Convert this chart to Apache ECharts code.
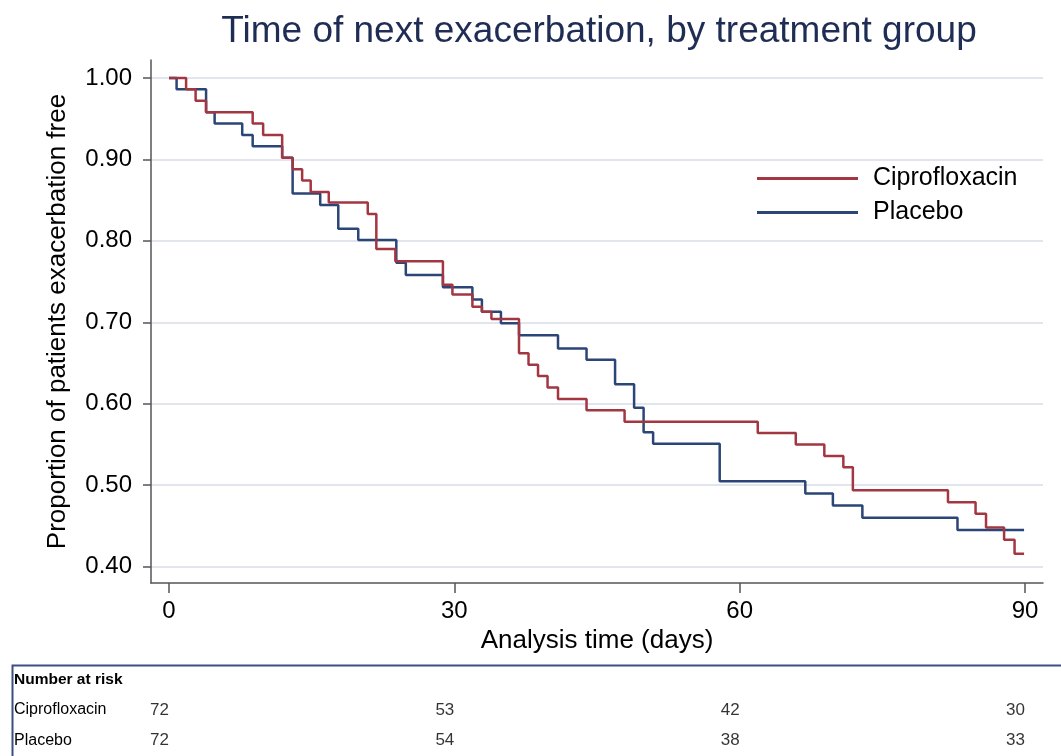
<!DOCTYPE html>
<html>
<head>
<meta charset="utf-8">
<script src="https://cdn.jsdelivr.net/npm/echarts@6/dist/echarts.min.js"></script>
<style>
html,body{margin:0;padding:0;background:#fff;}
#chart{width:1061px;height:756px;}
</style>
</head>
<body>
<div id="chart"></div>
<script>
// ---- data ----
const ciproTime = [0, 1.8, 2.8, 3.9, 8.8, 9.9, 11.9, 13.0, 14.0, 14.9, 16.8, 20.9, 21.8, 23.8, 28.8, 29.8, 31.9, 32.9, 33.9, 36.8, 37.8, 38.8, 39.8, 40.9, 43.9, 47.9, 61.9, 65.9, 68.9, 70.9, 71.9, 81.9, 84.8, 85.9, 87.8, 88.9, 89.9];
const ciproSurv = [1.0, 0.986, 0.972, 0.958, 0.944, 0.930, 0.902, 0.888, 0.874, 0.860, 0.847, 0.833, 0.790, 0.775, 0.746, 0.734, 0.719, 0.713, 0.704, 0.662, 0.648, 0.634, 0.620, 0.606, 0.592, 0.578, 0.564, 0.550, 0.536, 0.522, 0.494, 0.479, 0.465, 0.448, 0.433, 0.416, 0.416];
const placeboTime = [0, 0.8, 3.9, 4.8, 7.7, 8.8, 11.9, 13.0, 15.9, 17.8, 19.9, 23.9, 24.9, 28.8, 31.9, 32.9, 34.9, 36.8, 40.9, 43.9, 46.9, 48.9, 49.9, 50.9, 57.9, 66.9, 69.8, 72.9, 82.9, 89.9];
const placeboSurv = [1.0, 0.986, 0.958, 0.944, 0.930, 0.916, 0.902, 0.858, 0.844, 0.815, 0.801, 0.773, 0.758, 0.743, 0.728, 0.713, 0.699, 0.684, 0.668, 0.654, 0.624, 0.595, 0.565, 0.551, 0.505, 0.490, 0.475, 0.460, 0.445, 0.445];
const seriesNames = ['Ciprofloxacin', 'Placebo'];
const xTicks = [0, 30, 60, 90];
const yTicks = [0.40, 0.50, 0.60, 0.70, 0.80, 0.90, 1.00];
const riskTimes = [0, 30, 60, 90];
const ciproRisk = [72, 53, 42, 30];
const placeboRisk = [72, 54, 38, 33];
const riskRows = ['Number at risk', 'Ciprofloxacin', 'Placebo'];

// ---- build ----
const FONT = '"Liberation Sans", Arial, Helvetica, sans-serif';
const RED = '#a23641', BLUE = '#2b4577';
const zip = (a, b) => a.map((v, i) => [v, b[i]]);
const riskData = riskTimes.map((t, i) => [t, riskRows[1], ciproRisk[i]])
  .concat(riskTimes.map((t, i) => [t, riskRows[2], placeboRisk[i]]));

const chart = echarts.init(document.getElementById('chart'), null, {renderer: 'canvas'});
chart.setOption({
  backgroundColor: '#fff',
  animation: false,
  textStyle: {fontFamily: FONT},
  title: {
    text: 'Time of next exacerbation, by treatment group',
    left: 594, top: 8, textAlign: 'center',
    textStyle: {fontFamily: FONT, fontSize: 37, fontWeight: 'normal', color: '#1f2d55'}
  },
  legend: {
    orient: 'vertical', left: 752, top: 161, icon: 'rect',
    itemWidth: 101, itemHeight: 3, itemGap: 9,
    data: seriesNames,
    textStyle: {fontFamily: FONT, fontSize: 25, color: '#000', padding: [0, 0, 0, 10], lineHeight: 25}
  },
  grid: [
    {left: 151, right: 18, top: 60, bottom: 173, containLabel: false},
    {left: 151, right: 18, top: 664, bottom: -14, containLabel: false}
  ],
  xAxis: [
    {
      type: 'value', gridIndex: 0, min: -1.89, max: 91.89,
      name: 'Analysis time (days)', nameLocation: 'middle', nameGap: 40,
      nameTextStyle: {fontFamily: FONT, fontSize: 26, color: '#000'},
      axisLine: {show: true, onZero: false, lineStyle: {color: '#555', width: 1.5}},
      axisTick: {show: true, length: 10, customValues: xTicks, lineStyle: {color: '#555', width: 1.5}},
      axisLabel: {customValues: xTicks, margin: 16, fontSize: 24, color: '#000', fontFamily: FONT},
      splitLine: {show: false}
    },
    {
      type: 'value', gridIndex: 1, min: -1.89, max: 91.89, show: false
    }
  ],
  yAxis: [
    {
      type: 'value', gridIndex: 0, min: 0.38, max: 1.022,
      name: 'Proportion of patients exacerbation free', nameLocation: 'middle', nameGap: 80,
      nameTextStyle: {fontFamily: FONT, fontSize: 26, color: '#000'},
      axisLine: {show: true, onZero: false, lineStyle: {color: '#555', width: 1.5}},
      axisTick: {show: true, length: 8, customValues: yTicks, lineStyle: {color: '#555', width: 1.5}},
      axisLabel: {customValues: yTicks, margin: 19, fontSize: 24, color: '#000', fontFamily: FONT,
        formatter: v => v.toFixed(2)},
      splitLine: {show: true, lineStyle: {color: '#e3e5ee', width: 2}}
    },
    {
      type: 'category', gridIndex: 1, inverse: true, data: riskRows,
      axisLine: {show: false}, axisTick: {show: false}, splitLine: {show: false},
      axisLabel: {
        margin: 137, align: 'left', fontSize: 16, color: '#000', fontFamily: FONT,
        formatter: v => v === riskRows[0] ? '{b|' + v + '}' : v,
        rich: {b: {fontWeight: 'bold', fontSize: 15.5, color: '#000', fontFamily: FONT}}
      }
    }
  ],
  graphic: [{
    type: 'rect', left: 10, top: 663, silent: true,
    shape: {width: 1060, height: 100},
    style: {fill: 'none', stroke: '#3d4f82', lineWidth: 2}
  }],
  series: [
    {
      name: seriesNames[0], type: 'line', step: 'end', xAxisIndex: 0, yAxisIndex: 0,
      data: zip(ciproTime, ciproSurv), showSymbol: false, symbol: 'none',
      lineStyle: {color: RED, width: 2.5}, itemStyle: {color: RED}, z: 3
    },
    {
      name: seriesNames[1], type: 'line', step: 'end', xAxisIndex: 0, yAxisIndex: 0,
      data: zip(placeboTime, placeboSurv), showSymbol: false, symbol: 'none',
      lineStyle: {color: BLUE, width: 2.5}, itemStyle: {color: BLUE}, z: 2
    },
    {
      type: 'scatter', xAxisIndex: 1, yAxisIndex: 1, data: riskData, silent: true,
      symbolSize: 0.01, itemStyle: {color: 'transparent'},
      label: {show: true, position: 'left', distance: 0, fontSize: 17, color: '#000', fontFamily: FONT,
        formatter: p => String(p.value[2])}
    }
  ]
});
</script>
</body>
</html>
